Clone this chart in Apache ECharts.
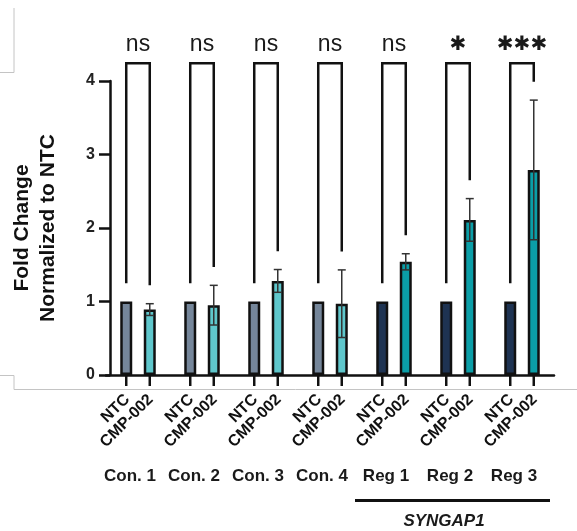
<!DOCTYPE html>
<html>
<head>
<meta charset="utf-8">
<style>
    html, body { margin: 0; padding: 0; background: #fff; }
    #chart { width: 577px; height: 531px; }
</style>
<script src="https://cdn.jsdelivr.net/npm/echarts@6/dist/echarts.min.js"></script>
</head>
<body>
<div id="chart"></div>
<script>
    // data
    const groups = ['Con. 1', 'Con. 2', 'Con. 3', 'Con. 4', 'Reg 1', 'Reg 2', 'Reg 3'];
    const groupKind = ['con', 'con', 'con', 'con', 'reg', 'reg', 'reg'];
    const barNames = ['NTC', 'CMP-002'];
    const ntcValues = [1, 1, 1, 1, 1, 1, 1];
    const cmpValues = [0.89, 0.95, 1.28, 0.97, 1.54, 2.11, 2.79];
    const cmpErrors = [0.08, 0.27, 0.155, 0.46, 0.11, 0.29, 0.95];
    const significance = ['ns', 'ns', 'ns', 'ns', 'ns', '✱', '✱✱✱'];

    const FONT = 'Liberation Sans, Arial, sans-serif';
    const ntcColor = { con: '#75869a', reg: '#1e3352' };
    const cmpColor = { con: '#5fc7cc', reg: '#0b9ea7' };

    // bar geometry (used to find where each bar sits inside its category)
    const BAR_W = 12;
    const BAR_GAP = 0.96;
    const OFF = BAR_W * (1 + BAR_GAP) / 2;

    const LEG_GAP = 0.25;      // space between bar/error and bracket leg
    const BRACKET_TOP = 4.24;
    const SIG_Y = 4.5;

    let chart = echarts.init(document.querySelector('#chart'));

    function errorBars(params, api) {
        let i = api.value(0);
        let x = api.coord([i, 0])[0] + OFF;
        let hi = api.coord([i, cmpValues[i] + cmpErrors[i]])[1];
        let lo = api.coord([i, cmpValues[i] - cmpErrors[i]])[1];
        let st = { stroke: '#333', lineWidth: 1.5 };
        return {
            type: 'group',
            children: [
                { type: 'line', shape: { x1: x, y1: hi, x2: x, y2: lo }, style: st },
                { type: 'line', shape: { x1: x - 4, y1: hi, x2: x + 4, y2: hi }, style: st },
                { type: 'line', shape: { x1: x - 4, y1: lo, x2: x + 4, y2: lo }, style: st }
            ]
        };
    }

    function brackets(params, api) {
        let i = api.value(0);
        let c = api.coord([i, 0]);
        let xL = c[0] - OFF, xR = c[0] + OFF;
        let yTop = api.coord([i, BRACKET_TOP])[1];
        let yL = api.coord([i, ntcValues[i] + LEG_GAP])[1];
        let yR = api.coord([i, cmpValues[i] + cmpErrors[i] + LEG_GAP])[1];
        let ySig = api.coord([i, SIG_Y])[1];
        let star = significance[i] !== 'ns';
        return {
            type: 'group',
            children: [
                {
                    type: 'polyline',
                    shape: { points: [[xL, yL], [xL, yTop], [xR, yTop], [xR, yR]] },
                    style: { stroke: '#111', lineWidth: 2.5, fill: null }
                },
                {
                    type: 'text',
                    x: c[0], y: ySig + (star ? 1 : 0),
                    style: {
                        text: significance[i],
                        fill: '#1a1a1a',
                        font: star ? '20px DejaVu Sans' : '23px ' + FONT,
                        align: 'center', verticalAlign: 'middle',
                        textAlign: 'center', textVerticalAlign: 'middle'
                    }
                }
            ]
        };
    }

    function barTicksAndLabels(params, api) {
        let i = api.value(0);
        let c = api.coord([i, 0]);
        let children = [];
        [-OFF, OFF].forEach(function (d, k) {
            let x = c[0] + d;
            children.push({
                type: 'line',
                shape: { x1: x, y1: c[1], x2: x, y2: c[1] + 11 },
                style: { stroke: '#111', lineWidth: 2.5 }
            });
            children.push({
                type: 'text',
                x: x + 1, y: c[1] + 22,
                rotation: Math.PI / 4,
                style: {
                    text: barNames[k],
                    fill: '#111',
                    font: 'bold 16px ' + FONT,
                    align: 'right', verticalAlign: 'middle',
                    textAlign: 'right', textVerticalAlign: 'middle'
                }
            });
        });
        return { type: 'group', children: children };
    }

    let idxData = groups.map(function (g, i) { return [i, cmpValues[i]]; });

    let option = {
        animation: false,
        grid: {
            left: 106,
            right: 23,
            top: 81,
            bottom: 156,
            containLabel: false
        },
        xAxis: {
            type: 'category',
            data: groups,
            axisLine: { lineStyle: { color: '#111', width: 2.5 } },
            axisTick: { show: false },
            axisLabel: {
                interval: 0,
                color: '#1a1a1a',
                fontFamily: FONT,
                fontWeight: 'bold',
                fontSize: 17,
                margin: 93,
                padding: [0, 16, 0, 0]
            }
        },
        yAxis: {
            type: 'value',
            min: 0,
            max: 4,
            interval: 1,
            offset: -4,
            name: 'Fold Change\nNormalized to NTC',
            nameLocation: 'middle',
            nameRotate: 90,
            nameGap: 49,
            nameTextStyle: {
                color: '#111',
                fontFamily: FONT,
                fontWeight: 'bold',
                fontSize: 21,
                lineHeight: 26
            },
            axisLine: { show: true, lineStyle: { color: '#111', width: 2.5 } },
            axisTick: { show: true, length: 11, lineStyle: { color: '#111', width: 2.5 } },
            axisLabel: {
                color: '#222',
                fontFamily: FONT,
                fontWeight: 'bold',
                fontSize: 16,
                margin: 15
            },
            splitLine: { show: false }
        },
        series: [
            {
                name: 'NTC',
                type: 'bar',
                data: ntcValues,
                barWidth: BAR_W,
                barGap: (BAR_GAP * 100) + '%',
                itemStyle: {
                    color: function (p) { return ntcColor[groupKind[p.dataIndex]]; },
                    borderColor: '#111',
                    borderWidth: 2.5
                }
            },
            {
                name: 'CMP-002',
                type: 'bar',
                data: cmpValues,
                barWidth: BAR_W,
                barGap: (BAR_GAP * 100) + '%',
                itemStyle: {
                    color: function (p) { return cmpColor[groupKind[p.dataIndex]]; },
                    borderColor: '#111',
                    borderWidth: 2.5
                }
            },
            {
                type: 'custom',
                renderItem: errorBars,
                data: idxData,
                z: 5,
                silent: true
            },
            {
                type: 'custom',
                renderItem: brackets,
                data: idxData,
                z: 5,
                silent: true
            },
            {
                type: 'custom',
                renderItem: barTicksAndLabels,
                data: idxData,
                z: 5,
                silent: true
            }
        ],
        graphic: [
            // faint frame lines from the original slide
            { type: 'polyline', z: -1, shape: { points: [[14, 8], [14, 72.5], [0, 72.5]] }, style: { stroke: '#c4c4c4', lineWidth: 1, fill: null } },
            { type: 'polyline', z: -1, shape: { points: [[0, 375.5], [14, 375.5], [14, 389.5], [577, 389.5]] }, style: { stroke: '#c4c4c4', lineWidth: 1, fill: null } },
            // gene bracket
            { type: 'line', shape: { x1: 355, y1: 500.5, x2: 550, y2: 500.5 }, style: { stroke: '#111', lineWidth: 3 } },
            {
                type: 'text', x: 444, y: 521,
                style: {
                    text: 'SYNGAP1', fill: '#1a1a1a',
                    font: 'italic bold 17px ' + FONT,
                    align: 'center', verticalAlign: 'middle',
                    textAlign: 'center', textVerticalAlign: 'middle'
                }
            }
        ]
    };

    chart.setOption(option);
    window.addEventListener('resize', function () { chart.resize(); });
</script>
</body>
</html>
